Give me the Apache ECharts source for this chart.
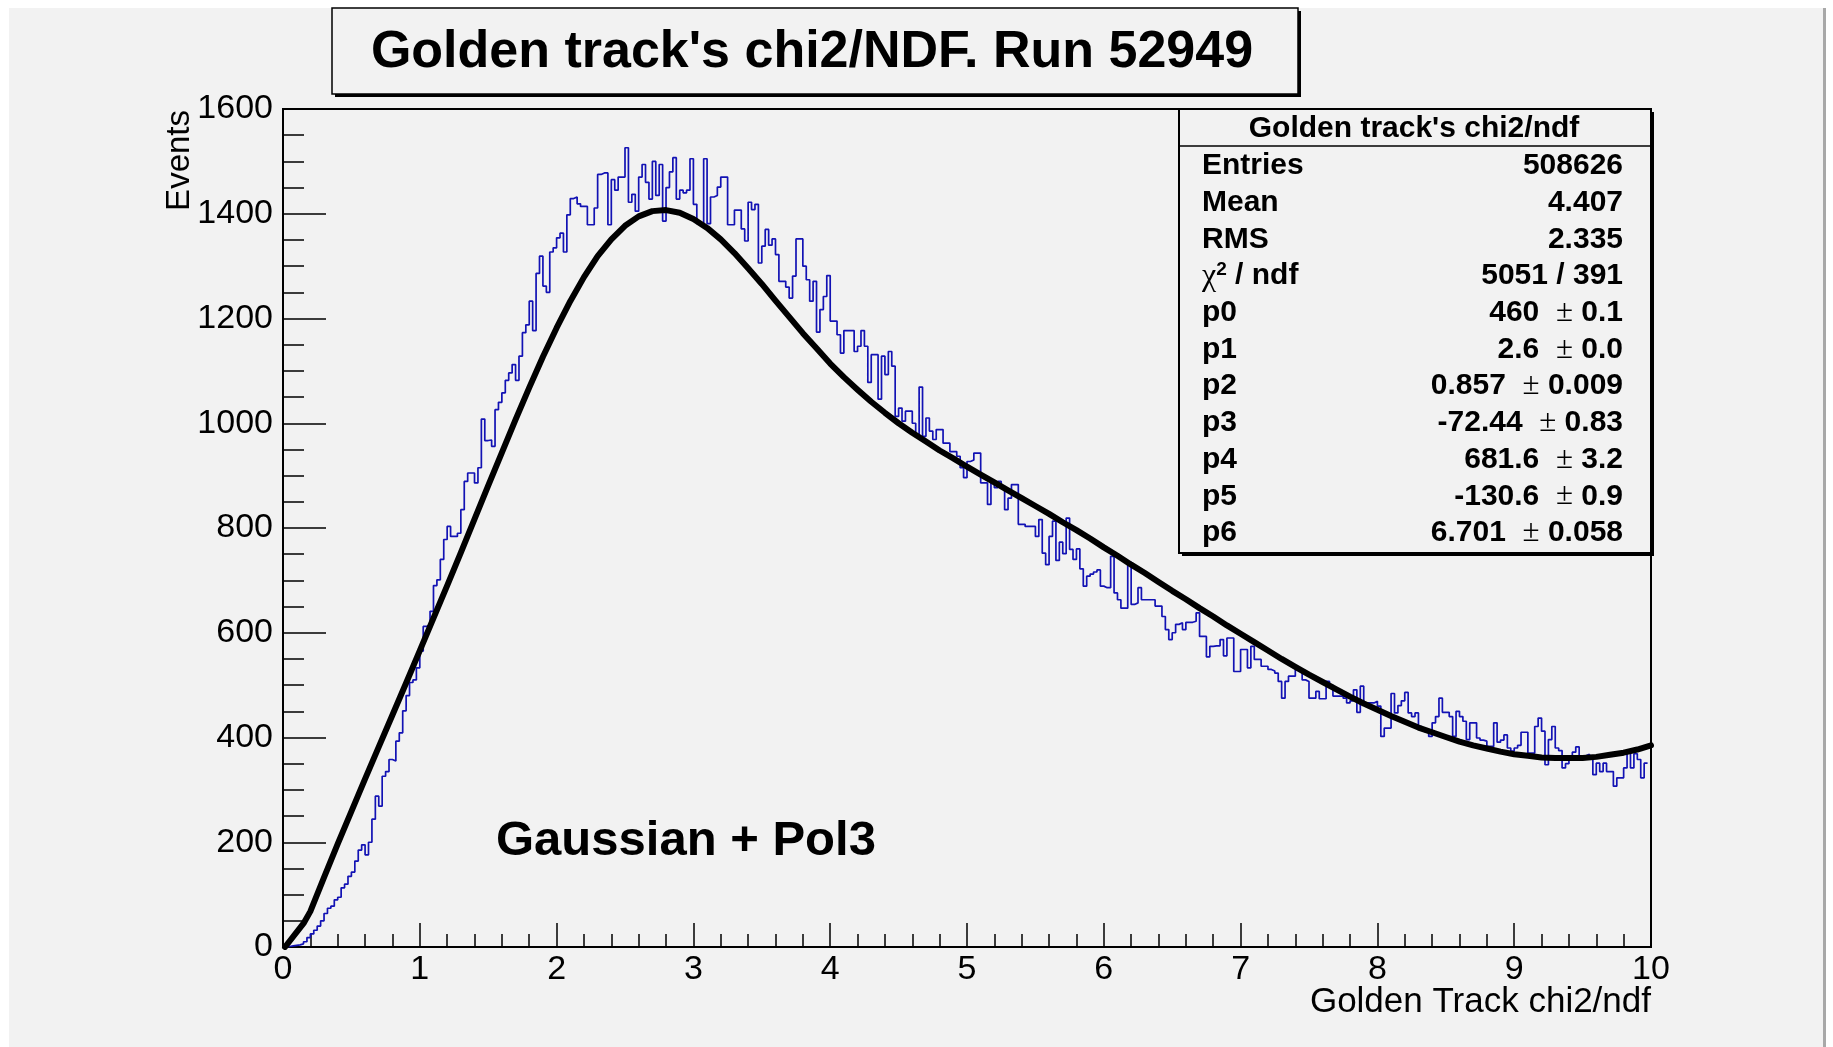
<!DOCTYPE html>
<html><head><meta charset="utf-8">
<script src="https://cdn.jsdelivr.net/npm/echarts@6/dist/echarts.min.js"></script>
<style>html,body{margin:0;padding:0;background:#fff;}#c{width:1833px;height:1047px;}</style>
</head><body><div id="c"></div>
<script>
// ---------------- data ----------------
const titleText = "Golden track's chi2/NDF. Run 52949";
const xAxisTitle = 'Golden Track chi2/ndf';
const yAxisTitle = 'Events';
const annotation = 'Gaussian + Pol3';
const statsTitle = "Golden track's chi2/ndf";
const statLabels = ['Entries', 'Mean', 'RMS', 'χ2 / ndf', 'p0', 'p1', 'p2', 'p3', 'p4', 'p5', 'p6'];
const statValues = ['508626', '4.407', '2.335', '5051 / 391', '460  ± 0.1', '2.6  ± 0.0', '0.857  ± 0.009',
  '-72.44  ± 0.83', '681.6  ± 3.2', '-130.6  ± 0.9', '6.701  ± 0.058'];
const xTickLabels = ['0', '1', '2', '3', '4', '5', '6', '7', '8', '9', '10'];
const yTickLabels = ['0', '200', '400', '600', '800', '1000', '1200', '1400', '1600'];
const binLow = 0;
const binWidth = 0.025;
const counts = [
  0,1,2,3,4,6,10,18,25,32,40,50,64,74,78,90,95,113,120,135,143,164,185,195,176,200,244,288,269,326,
  335,358,355,393,409,451,480,505,510,533,565,612,615,641,690,701,740,778,
  803,784,784,790,835,889,905,905,886,915,1008,967,968,956,1026,1040,1058,1082,1096,1112,1082,1128,
  1173,1188,1233,1177,1286,1319,1262,1250,1327,1335,1354,1363,1327,1398,1429,1432,1419,1414,1414,1379,
  1379,1411,1475,1478,1478,1379,1465,1445,1470,1470,
  1526,1422,1437,1405,1470,1494,1460,1428,1500,1435,1494,1386,1450,1480,1507,1428,1445,1440,1445,1505,
  1418,1381,1381,1505,1381,1432,1435,1451,1470,1470,1379,1379,1407,1407,1371,1348,1422,1408,1418,1306,
  1338,1370,1340,
  1352,1322,1271,1271,1260,1239,1281,1352,1352,1300,1274,1233,1271,1174,1217,1242,1282,1195,1195,1169,
  1134,1177,1177,1177,1137,1147,1177,1147,1078,1131,1131,1046,1128,1093,1137,1109,1013,1029,1004,1023,
  1023,1000,978,1069,975,1010,985,969,988,988,962,962,946,946,937,915,896,927,930,943,
  943,886,886,845,889,877,889,880,835,857,883,883,807,807,803,803,
  803,784,816,752,730,784,813,738,773,751,819,759,740,760,722,689,708,712,716,720,
  689,686,686,746,676,663,647,647,735,654,657,686,663,
  663,663,663,651,651,631,606,587,600,616,619,606,620,620,622,638,593,593,554,574,
  575,575,587,556,590,590,526,526,568,568,533,574,549,549,536,536,530,527,523,507,
  475,507,517,517,530,530,510,507,475,475,488,474,474,507,500,479,479,479,475,466,
  470,491,448,498,466,466,466,469,460,402,418,418,484,447,461,470,486,447,440,447,
  421,415,410,402,428,440,475,448,448,440,402,450,440,431,396,428,428,399,395,393,
  383,383,428,391,395,405,380,374,380,385,410,410,370,370,421,437,412,348,396,421,
  380,375,342,350,361,372,382,363,365,368,364,329,351,335,351,335,335,307,323,323,
  342,370,342,369,358,323,351
];
const fitX = [0.015,0.15,
  0.2,0.3,0.4,0.5,0.6,0.7,0.8,0.9,1.0,
  1.1,1.2,1.3,1.4,1.5,1.6,1.7,1.8,1.9,2.0,
  2.1,2.2,2.3,2.4,2.5,2.6,2.7,2.8,2.9,3.0,
  3.1,3.2,3.3,3.4,3.5,3.6,3.7,3.8,3.9,4.0,
  4.1,4.2,4.3,4.4,4.5,4.6,4.7,4.8,4.9,5.0,
  5.1,5.2,5.3,5.4,5.5,5.6,5.7,5.8,5.9,6.0,
  6.1,6.2,6.3,6.4,6.5,6.6,6.7,6.8,6.9,7.0,
  7.1,7.2,7.3,7.4,7.5,7.6,7.7,7.8,7.9,8.0,
  8.1,8.2,8.3,8.4,8.5,8.6,8.7,8.8,8.9,9.0,
  9.1,9.2,9.3,9.4,9.5,9.6,9.7,9.8,9.9,10.0];
const fitY = [0,45,
  68,133,197,259,321,382,443,504,566,
  628,690,753,817,881,944,1007,1068,1127,1182,
  1233,1279,1319,1351,1377,1395,1405,1407,1402,1390,
  1373,1351,1325,1296,1266,1234,1203,1172,1143,1114,
  1088,1064,1041,1020,1000,982,965,948,933,917,
  902,887,872,857,842,827,811,796,780,763,
  747,730,714,697,680,664,647,631,614,598,
  582,566,550,535,520,506,492,478,465,453,
  441,430,419,410,401,392,385,379,373,368,
  365,362,361,361,361,363,367,371,377,385];

// ---------------- build ----------------
const FONT = '"Liberation Sans", Arial, Helvetica, sans-serif';
const histData = counts.map((v, i) => [binLow + i * binWidth, v]);
histData.push([binLow + counts.length * binWidth, counts[counts.length - 1]]);
const fitData = fitX.map((x, i) => [x, fitY[i]]);

const G = {left: 283, top: 109, width: 1368, height: 838};
const xMax = Number(xTickLabels[xTickLabels.length - 1]);
const yMax = Number(yTickLabels[yTickLabels.length - 1]);

function txt(text, x, y, font, align, valign, extra) {
  return Object.assign({
    type: 'text', z: 120, silent: true,
    style: {text: text, x: x, y: y, font: font, fill: '#000',
      align: align, textAlign: align, verticalAlign: valign, textVerticalAlign: valign}
  }, extra || {});
}

const graphics = [
  {type: 'rect', z: -10, silent: true, shape: {x: 9, y: 8, width: 1814, height: 1039}, style: {fill: '#f2f2f2'}},
  {type: 'rect', z: -10, silent: true, shape: {x: 1823, y: 8, width: 3, height: 1039}, style: {fill: '#a8a8a8'}},
  // title pave
  {type: 'rect', z: 100, silent: true, shape: {x: 335, y: 11, width: 966, height: 86}, style: {fill: '#000'}},
  {type: 'rect', z: 101, silent: true, shape: {x: 332, y: 8, width: 966, height: 86}, style: {fill: '#f2f2f2', stroke: '#000', lineWidth: 1.5}},
  txt(titleText, 812, 53, 'bold 52px ' + FONT, 'center', 'middle'),
  // stats pave
  {type: 'rect', z: 100, silent: true, shape: {x: 1182, y: 112, width: 472, height: 444}, style: {fill: '#000'}},
  {type: 'rect', z: 101, silent: true, shape: {x: 1179, y: 109, width: 472, height: 444}, style: {fill: '#f2f2f2', stroke: '#000', lineWidth: 2}},
  {type: 'line', z: 102, silent: true, shape: {x1: 1179, y1: 146, x2: 1651, y2: 146}, style: {stroke: '#000', lineWidth: 1.5}},
  txt(statsTitle, 1414, 129, 'bold 30px ' + FONT, 'center', 'middle'),
  // annotation
  txt(annotation, 496, 841, 'bold 49px ' + FONT, 'left', 'middle'),
  // axis titles
  txt(xAxisTitle, 1651, 1002, '35px ' + FONT, 'right', 'middle'),
  txt(yAxisTitle, 0, 0, '33px ' + FONT, 'right', 'middle', {x: 180, y: 110, rotation: Math.PI / 2})
];

const pmRich = {pm: {fontFamily: '"Liberation Serif", serif', fontSize: 31, fontWeight: 'normal'}};
statLabels.forEach((lab, k) => {
  const y = 166 + k * 36.7;
  if (lab.charAt(0) === 'χ') {
    const el = txt('{chi|χ}{sup|2}' + lab.slice(2), 1202, y, 'bold 30px ' + FONT, 'left', 'middle');
    el.style.rich = {
      chi: {fontFamily: '"Liberation Serif", serif', fontSize: 32, fontWeight: 'normal'},
      sup: {fontFamily: FONT, fontSize: 19, fontWeight: 'bold', verticalAlign: 'top'}
    };
    graphics.push(el);
  } else {
    graphics.push(txt(lab, 1202, y, 'bold 30px ' + FONT, 'left', 'middle'));
  }
  const vt = statValues[k].replace('±', '{pm|±}');
  const ve = txt(vt, 1623, y, 'bold 30px ' + FONT, 'right', 'middle');
  ve.style.rich = pmRich;
  graphics.push(ve);
});

const chart = echarts.init(document.getElementById('c'), null, {renderer: 'canvas'});
chart.setOption({
  animation: false,
  backgroundColor: '#ffffff',
  grid: Object.assign({show: true, borderColor: '#000', borderWidth: 2, backgroundColor: 'transparent',
    containLabel: false, outerBoundsMode: 'none'}, G),
  xAxis: {
    type: 'value', min: 0, max: xMax, interval: xMax / (xTickLabels.length - 1),
    axisLine: {show: true, onZero: false, lineStyle: {color: '#000', width: 2}},
    axisTick: {show: true, inside: true, length: 24, lineStyle: {color: '#000', width: 1.5}},
    minorTick: {show: true, splitNumber: 5, length: 13, lineStyle: {color: '#000', width: 1.5}},
    splitLine: {show: false},
    axisLabel: {color: '#000', fontSize: 34, fontFamily: FONT, margin: 6,
      formatter: v => xTickLabels[Math.round(v / (xMax / (xTickLabels.length - 1)))]}
  },
  yAxis: {
    type: 'value', min: 0, max: yMax, interval: yMax / (yTickLabels.length - 1),
    axisLine: {show: true, onZero: false, lineStyle: {color: '#000', width: 2}},
    axisTick: {show: true, inside: true, length: 43, lineStyle: {color: '#000', width: 1.5}},
    minorTick: {show: true, splitNumber: 4, length: 21, lineStyle: {color: '#000', width: 1.5}},
    splitLine: {show: false},
    axisLabel: {color: '#000', fontSize: 34, fontFamily: FONT, margin: 10,
      formatter: v => yTickLabels[Math.round(v / (yMax / (yTickLabels.length - 1)))]}
  },
  series: [
    {type: 'line', name: 'hist', data: histData, step: 'end', symbol: 'none', z: 2,
      lineStyle: {color: '#1212b4', width: 1.7}},
    {type: 'line', name: 'fit', data: fitData, smooth: false, symbol: 'none', z: 3,
      lineStyle: {color: '#000', width: 6, cap: 'round', join: 'round'}}
  ],
  graphic: {elements: graphics}
});
</script></body></html>
